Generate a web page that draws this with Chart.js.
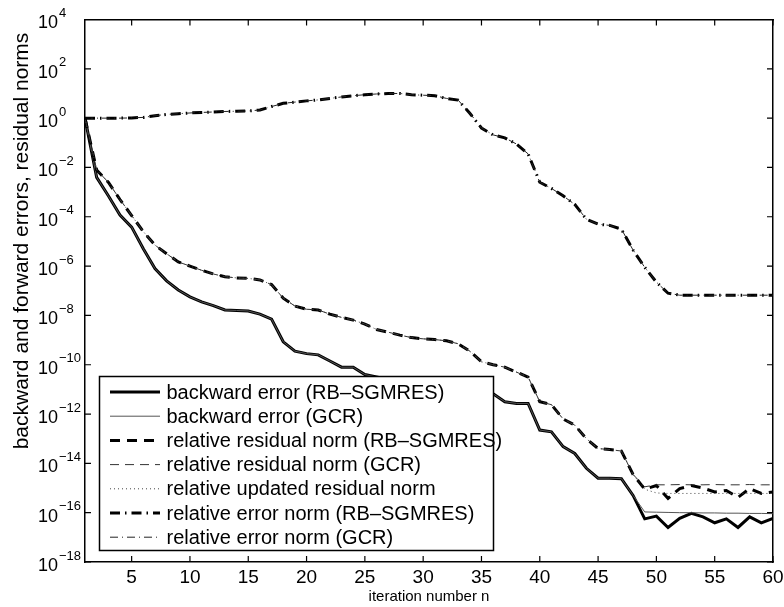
<!DOCTYPE html>
<html>
<head>
<meta charset="utf-8">
<script src="https://cdn.jsdelivr.net/npm/chart.js@4.4.1/dist/chart.umd.min.js"></script>
<style>
  html, body { margin: 0; padding: 0; background: #fff; overflow: hidden; }
  #chart { display: block; }
</style>
</head>
<body>
<canvas id="chart" width="784" height="607"></canvas>
<script>
// iteration numbers
const iterations = [1, 2, 3, 4, 5, 6, 7, 8, 9, 10, 11, 12, 13, 14, 15, 16, 17, 18, 19, 20,
    21, 22, 23, 24, 25, 26, 27, 28, 29, 30, 31, 32, 33, 34, 35, 36, 37, 38, 39, 40,
    41, 42, 43, 44, 45, 46, 47, 48, 49, 50, 51, 52, 53, 54, 55, 56, 57, 58, 59, 60];

// all series stored as log10 of the value
const backwardRbLog = [0, -2.4, -3.15, -3.93, -4.42, -5.3, -6.1, -6.6, -6.97, -7.25,
    -7.45, -7.6, -7.78, -7.8, -7.82, -7.95, -8.15, -9.07, -9.45, -9.55,
    -9.6, -9.85, -10.1, -10.1, -10.4, -10.5, -10.6, -10.7, -10.75, -10.85,
    -10.9, -11.0, -11.05, -11.15, -11.18, -11.18, -11.5, -11.57, -11.57, -12.65,
    -12.72, -13.32, -13.6, -14.2, -14.6, -14.6, -14.62, -15.3, -16.25, -16.14,
    -16.6, -16.23, -16.03, -16.17, -16.41, -16.25, -16.6, -16.17, -16.41, -16.23];

const backwardGcrLog = [0, -2.4, -3.15, -3.93, -4.42, -5.3, -6.1, -6.6, -6.97, -7.25,
    -7.45, -7.6, -7.78, -7.8, -7.82, -7.95, -8.15, -9.07, -9.45, -9.55,
    -9.6, -9.85, -10.1, -10.1, -10.4, -10.5, -10.6, -10.7, -10.75, -10.85,
    -10.9, -11.0, -11.05, -11.15, -11.18, -11.18, -11.5, -11.57, -11.57, -12.65,
    -12.72, -13.32, -13.6, -14.2, -14.6, -14.6, -14.62, -15.3, -15.97, -15.98,
    -15.99, -16.0, -16.0, -16.01, -16.01, -16.02, -16.02, -16.03, -16.03, -16.04];

const residualRbLog = [0, -2.1, -2.6, -3.3, -3.95, -4.6, -5.15, -5.5, -5.83, -6.0,
    -6.17, -6.32, -6.43, -6.48, -6.5, -6.56, -6.75, -7.3, -7.62, -7.75,
    -7.78, -7.95, -8.08, -8.19, -8.35, -8.57, -8.68, -8.8, -8.9, -8.95,
    -8.98, -9.03, -9.15, -9.45, -9.88, -10.0, -10.1, -10.3, -10.5, -11.5,
    -11.62, -12.2, -12.45, -13.0, -13.4, -13.44, -13.5, -14.45, -15.05, -14.9,
    -15.42, -15.02, -14.9, -15.0, -15.16, -15.1, -15.38, -15.02, -15.22, -15.16];

const residualGcrLog = [0, -2.1, -2.6, -3.3, -3.95, -4.6, -5.15, -5.5, -5.83, -6.0,
    -6.17, -6.32, -6.43, -6.48, -6.5, -6.56, -6.75, -7.3, -7.62, -7.75,
    -7.78, -7.95, -8.08, -8.19, -8.35, -8.57, -8.68, -8.8, -8.9, -8.95,
    -8.98, -9.03, -9.15, -9.45, -9.88, -10.0, -10.1, -10.3, -10.5, -11.5,
    -11.62, -12.2, -12.45, -13.0, -13.4, -13.44, -13.5, -14.45, -14.95, -14.87,
    -14.87, -14.86, -14.87, -14.87, -14.86, -14.87, -14.87, -14.86, -14.87, -14.87];

const updatedResidualLog = [0, -2.1, -2.6, -3.3, -3.95, -4.6, -5.15, -5.5, -5.83, -6.0,
    -6.17, -6.32, -6.43, -6.48, -6.5, -6.56, -6.75, -7.3, -7.62, -7.75,
    -7.78, -7.95, -8.08, -8.19, -8.35, -8.57, -8.68, -8.8, -8.9, -8.95,
    -8.98, -9.03, -9.15, -9.45, -9.88, -10.0, -10.1, -10.3, -10.5, -11.5,
    -11.62, -12.2, -12.45, -13.0, -13.4, -13.44, -13.5, -14.45, -15.05, -15.2,
    -15.22, -15.22, -15.22, -15.22, -15.22, -15.22, -15.22, -15.22, -15.22, -15.22];

const errorRbLog = [0, 0, 0, 0, 0.01, 0.03, 0.1, 0.15, 0.18, 0.21,
    0.23, 0.25, 0.27, 0.28, 0.29, 0.33, 0.47, 0.6, 0.65, 0.7,
    0.74, 0.8, 0.86, 0.91, 0.95, 0.98, 1.0, 1.0, 0.95, 0.93,
    0.91, 0.8, 0.73, 0.2, -0.4, -0.68, -0.8, -1.05, -1.45, -2.6,
    -2.85, -3.15, -3.5, -4.1, -4.3, -4.35, -4.5, -5.35, -6.05, -6.65,
    -7.1, -7.18, -7.18, -7.18, -7.18, -7.18, -7.18, -7.18, -7.18, -7.18];

const errorGcrLog = [0, 0, 0, 0, 0.01, 0.03, 0.1, 0.15, 0.18, 0.21,
    0.23, 0.25, 0.27, 0.28, 0.29, 0.33, 0.47, 0.6, 0.65, 0.7,
    0.74, 0.8, 0.86, 0.91, 0.95, 0.98, 1.0, 1.0, 0.95, 0.93,
    0.91, 0.8, 0.73, 0.2, -0.4, -0.68, -0.8, -1.05, -1.45, -2.6,
    -2.85, -3.15, -3.5, -4.1, -4.3, -4.35, -4.5, -5.35, -6.05, -6.65,
    -7.1, -7.18, -7.18, -7.18, -7.18, -7.18, -7.18, -7.18, -7.18, -7.18];

const seriesLabels = [
    'backward error (RB\u2013SGMRES)',
    'backward error (GCR)',
    'relative residual norm (RB\u2013SGMRES)',
    'relative residual norm (GCR)',
    'relative updated residual norm',
    'relative error norm (RB\u2013SGMRES)',
    'relative error norm (GCR)'
];

const xTickValues = [5, 10, 15, 20, 25, 30, 35, 40, 45, 50, 55, 60];
const yTickExponents = [4, 2, 0, -2, -4, -6, -8, -10, -12, -14, -16, -18];

const FONT = '"Liberation Sans", Arial, Helvetica, sans-serif';

function toPoints(logs) {
    return iterations.map((n, i) => ({ x: n, y: Math.pow(10, logs[i]) }));
}

const styles = [
    { data: backwardRbLog, color: '#000', width: 3, dash: [] },
    { data: backwardGcrLog, color: '#555', width: 1, dash: [] },
    { data: residualRbLog, color: '#000', width: 3, dash: [10, 7] },
    { data: residualGcrLog, color: '#333', width: 1, dash: [9, 6] },
    { data: updatedResidualLog, color: '#444', width: 1, dash: [1, 3] },
    { data: errorRbLog, color: '#000', width: 3, dash: [10, 5, 1.5, 5] },
    { data: errorGcrLog, color: '#222', width: 1, dash: [8, 4, 1, 4] }
];

const datasets = styles.map((s, i) => ({
    label: seriesLabels[i],
    data: toPoints(s.data),
    borderColor: s.color,
    borderWidth: s.width,
    borderDash: s.dash,
    pointRadius: 0,
    fill: false,
    tension: 0,
    order: styles.length - i
}));

// a bare axis: only its border line, nothing else
function frameAxis(extra) {
    return Object.assign({
        display: true,
        ticks: { display: false },
        grid: { display: true, drawOnChartArea: false, drawTicks: false },
        border: { display: true, color: '#000', width: 1.5 }
    }, extra);
}

// inward ticks, tick labels, axis titles and legend
const matlabAxes = {
    id: 'matlabAxes',
    afterDraw(chart) {
        const ctx = chart.ctx;
        const a = chart.chartArea;
        const xs = chart.scales.x;
        const ys = chart.scales.y;
        const tick = 6;

        ctx.save();
        ctx.setLineDash([]);
        ctx.strokeStyle = '#000';
        ctx.lineWidth = 1.2;
        ctx.beginPath();
        xTickValues.forEach(v => {
            const px = xs.getPixelForValue(v);
            ctx.moveTo(px, a.bottom); ctx.lineTo(px, a.bottom - tick);
            ctx.moveTo(px, a.top); ctx.lineTo(px, a.top + tick);
        });
        yTickExponents.forEach(e => {
            const py = ys.getPixelForValue(Math.pow(10, e));
            ctx.moveTo(a.left, py); ctx.lineTo(a.left + tick, py);
            ctx.moveTo(a.right, py); ctx.lineTo(a.right - tick, py);
        });
        ctx.stroke();

        ctx.fillStyle = '#000';
        ctx.textBaseline = 'middle';

        ctx.font = '19px ' + FONT;
        ctx.textAlign = 'center';
        xTickValues.forEach(v => {
            ctx.fillText(String(v), xs.getPixelForValue(v), a.bottom + 16);
        });

        ctx.textAlign = 'left';
        yTickExponents.forEach(e => {
            const py = ys.getPixelForValue(Math.pow(10, e));
            ctx.font = '18px ' + FONT;
            ctx.fillText('10', 38, py + 4);
            const w = ctx.measureText('10').width;
            ctx.font = '13px ' + FONT;
            ctx.fillText(e < 0 ? '\u2212' + (-e) : String(e), 38 + w + 1, py - 6);
        });

        ctx.font = '15px ' + FONT;
        ctx.textAlign = 'center';
        ctx.fillText('iteration number n', (a.left + a.right) / 2, 597);

        ctx.save();
        ctx.translate(22, 241);
        ctx.rotate(-Math.PI / 2);
        ctx.font = '21px ' + FONT;
        ctx.fillText('backward and forward errors, residual norms', 0, 0);
        ctx.restore();

        // legend
        const box = { left: 99.5, top: 376.5, right: 493.5, bottom: 550.5 };
        ctx.fillStyle = '#fff';
        ctx.fillRect(box.left, box.top, box.right - box.left, box.bottom - box.top);
        ctx.strokeStyle = '#000';
        ctx.lineWidth = 1.5;
        ctx.strokeRect(box.left, box.top, box.right - box.left, box.bottom - box.top);

        ctx.font = '20px ' + FONT;
        ctx.textAlign = 'left';
        chart.data.datasets.forEach((ds, i) => {
            const y = box.top + 15.5 + i * 24.2;
            ctx.beginPath();
            ctx.strokeStyle = ds.borderColor;
            ctx.lineWidth = ds.borderWidth;
            ctx.setLineDash(ds.borderDash);
            ctx.moveTo(110, y);
            ctx.lineTo(160, y);
            ctx.stroke();
            ctx.setLineDash([]);
            ctx.fillStyle = '#000';
            ctx.fillText(ds.label, 166.5, y + 1);
        });
        ctx.restore();
    }
};

new Chart(document.getElementById('chart'), {
    type: 'line',
    data: { datasets: datasets },
    options: {
        responsive: false,
        animation: false,
        layout: { padding: 0 },
        plugins: {
            legend: { display: false },
            tooltip: { enabled: false }
        },
        scales: {
            x: frameAxis({
                type: 'linear', position: 'bottom', min: 1, max: 60,
                afterFit: s => { s.height = 45; }
            }),
            xTop: frameAxis({
                type: 'linear', position: 'top', min: 1, max: 60,
                afterFit: s => { s.height = 19.5; }
            }),
            y: frameAxis({
                type: 'logarithmic', position: 'left', min: 1e-18, max: 1e4,
                afterFit: s => { s.width = 85; }
            }),
            yRight: frameAxis({
                type: 'logarithmic', position: 'right', min: 1e-18, max: 1e4,
                afterFit: s => { s.width = 11; }
            })
        }
    },
    plugins: [matlabAxes]
});
</script>
</body>
</html>
